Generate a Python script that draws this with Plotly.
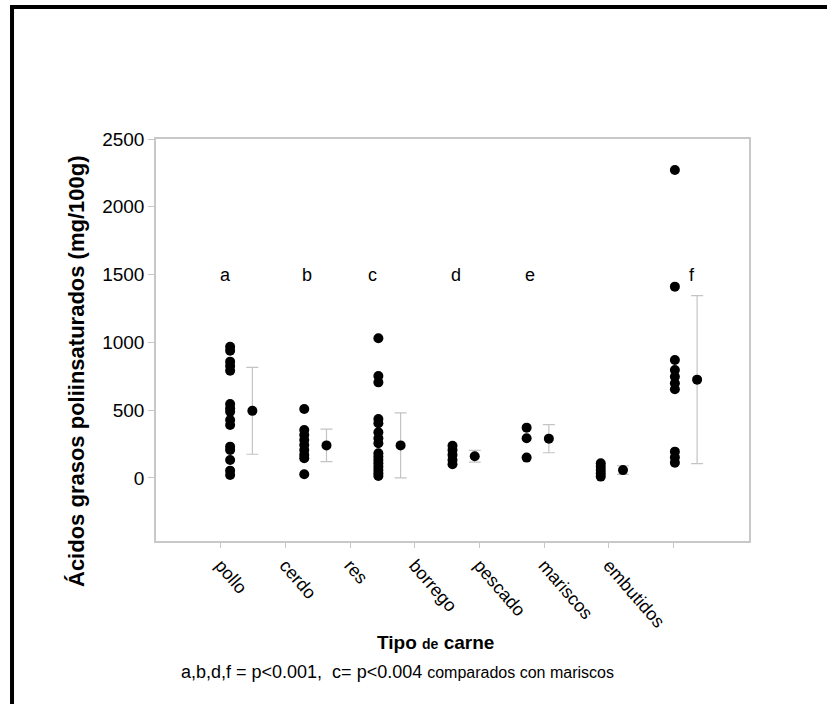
import plotly.graph_objects as go

categories = ["pollo", "cerdo", "res", "borrego", "pescado", "mariscos", "embutidos"]
pollo = [968, 939, 858, 826, 791, 546, 514, 489, 428, 391, 231, 206, 133, 54, 22]
cerdo = [509, 354, 317, 280, 243, 206, 170, 145, 27]
res = [1030, 752, 705, 435, 403, 337, 293, 256, 182, 157, 133, 108, 83, 59, 35, 15]
borrego = [238, 206, 170, 133, 101]
pescado = [371, 293, 150]
mariscos = [108, 83, 59, 35, 10]
embutidos = [2271, 1411, 870, 796, 747, 698, 654, 194, 152, 113]
means = [495, 240, 240, 160, 290, 58, 725]
sds = [320, 120, 240, 43, 104, 32, 620]
letters = ["a", "b", "c", "d", "e", "", "f"]
y_ticks = [0, 500, 1000, 1500, 2000, 2500]

groups = [pollo, cerdo, res, borrego, pescado, mariscos, embutidos]

FONT = "Liberation Sans, Arial, sans-serif"

fig = go.Figure()

xs, ys = [], []
for i, g in enumerate(groups):
    xs += [i + 1] * len(g)
    ys += g
fig.add_trace(go.Scatter(
    x=xs, y=ys, mode="markers", xaxis="x2", yaxis="y",
    marker=dict(color="black", size=10, line=dict(width=0)),
    showlegend=False, hoverinfo="y"))

fig.add_trace(go.Scatter(
    x=[i + 1.3 for i in range(len(categories))], y=means, mode="markers",
    xaxis="x2", yaxis="y",
    marker=dict(color="black", size=10, line=dict(width=0)),
    error_y=dict(type="data", array=sds, visible=True, color="#c4c4c4",
                 thickness=1.2, width=6),
    showlegend=False, hoverinfo="y"))

# dummy trace to activate label axis
fig.add_trace(go.Scatter(x=[0], y=[None], xaxis="x", yaxis="y",
                         mode="markers", showlegend=False, hoverinfo="skip"))

annotations = []
letter_x = [0.944, 2.037, 2.927, 4.047, 5.045, None, 7.23]
for lx, lt in zip(letter_x, letters):
    if lt:
        annotations.append(dict(x=lx, y=1410, xref="x2", yref="y", text=lt,
                                showarrow=False, xanchor="center", yanchor="bottom",
                                font=dict(family=FONT, size=18, color="black")))

annotations.append(dict(
    x=-0.1332, y=0.4229, xref="paper", yref="paper", textangle=-90,
    text="<b>Ácidos grasos poliinsaturados (mg/100g)</b>", showarrow=False,
    xanchor="center", yanchor="middle",
    font=dict(family=FONT, size=22, color="black")))
annotations.append(dict(
    x=0.4705, y=-0.2537, xref="paper", yref="paper",
    text="<b>Tipo <span style='font-size:14px'>de</span> carne</b>", showarrow=False,
    xanchor="center", yanchor="middle",
    font=dict(family=FONT, size=19, color="black")))
annotations.append(dict(
    x=0.407, y=-0.3259, xref="paper", yref="paper",
    text="a,b,d,f = p<0.001,  c= p<0.004 <span style='font-size:16px'>comparados con mariscos</span>",
    showarrow=False, xanchor="center", yanchor="middle",
    font=dict(family=FONT, size=18, color="black")))

axis_col = "#c8c8c8"
fig.update_layout(
    width=827, height=704,
    margin=dict(l=156, r=78, t=139, b=163),
    paper_bgcolor="white", plot_bgcolor="white",
    xaxis=dict(range=[0, 9.165], tickmode="array",
               tickvals=list(range(1, 9)), ticktext=categories + [""],
               tickangle=49, ticks="outside", ticklen=5, tickcolor=axis_col,
               showline=True, linecolor=axis_col, linewidth=1.5, mirror=True,
               showgrid=False, zeroline=False,
               tickfont=dict(family=FONT, size=18, color="black")),
    xaxis2=dict(range=[0, 8], overlaying="x", visible=False, showgrid=False,
                zeroline=False),
    yaxis=dict(range=[-465, 2500], tickmode="array", tickvals=y_ticks,
               ticks="outside", ticklen=6, tickcolor=axis_col,
               showline=True, linecolor=axis_col, linewidth=1.5, mirror=True,
               showgrid=False, zeroline=False,
               tickfont=dict(family=FONT, size=19, color="black")),
    annotations=annotations,
    shapes=[dict(type="rect", xref="paper", yref="paper",
                 x0=-0.2428, x1=1.6, y0=-0.6, y1=1.3284,
                 line=dict(color="black", width=4))],
)

fig.write_html("out.html", config={"displayModeBar": False},
               post_script="document.body.style.margin='0';document.body.style.padding='0';")
